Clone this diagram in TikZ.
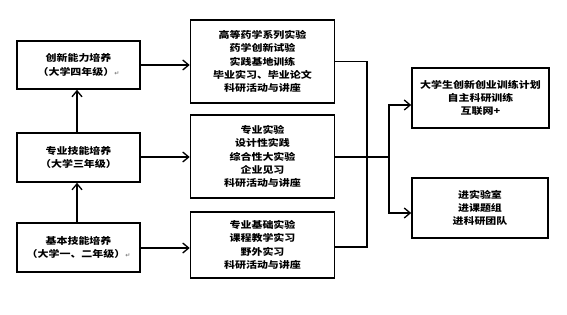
\documentclass[tikz,border=0pt]{standalone}
\usepackage{fontspec}
\setmainfont{Noto Sans CJK SC}[FakeStretch=1.18]
\newfontfamily\dejavu{DejaVu Sans}
\usetikzlibrary{arrows.meta}
\begin{document}
\begin{tikzpicture}[x=1pt,y=-1pt,
  box/.style={draw,line width=1.6pt,inner sep=0pt,align=center,font=\fontsize{9.3}{13.2}\selectfont\bfseries},
  conn/.style={line width=1.3pt},
  arr/.style={conn,-{Straight Barb[length=6pt,width=10pt,line width=1.3pt]}}]
\useasboundingbox (0,0) rectangle (567,315);
\newcommand{\parmark}{{\color{gray}\dejavu\fontsize{6}{6}\selectfont ↵}}
% left column
\node[box,minimum width=123,minimum height=48] (l1) at (78.5,65) {创新能力培养\\（大学四年级）\parmark};
\node[box,minimum width=123,minimum height=49] (l2) at (78.5,157.5) {专业技能培养\\（大学三年级）};
\node[box,minimum width=123,minimum height=49] (l3) at (78.5,247.5) {基本技能培养\\（大学一、二年级）\parmark};
% middle column
\node[box,minimum width=144,minimum height=83] (m1) at (262.5,61.5) {高等药学系列实验\\药学创新试验\\实践基地训练\\毕业实习、毕业论文\\科研活动与讲座};
\node[box,minimum width=144,minimum height=83] (m2) at (262.5,156.5) {专业实验\\设计性实践\\综合性大实验\\企业见习\\科研活动与讲座};
\node[box,minimum width=144,minimum height=66] (m3) at (262.5,245) {专业基础实验\\课程教学实习\\野外实习\\科研活动与讲座};
% right column
\node[box,minimum width=137,minimum height=60] (r1) at (480.5,98) {大学生创新创业训练计划\\自主科研训练\\互联网+};
\node[box,minimum width=136,minimum height=60] (r2) at (480,208) {进实验室\\进课题组\\进科研团队};
% coordinates
\coordinate (cx1) at (367,61.5);
\coordinate (cx3) at (367,247);
\coordinate (cm) at (367,157);
\coordinate (bj) at (389,157);
\coordinate (bu) at (389,105);
\coordinate (bd) at (389,213);
% arrows
\draw[arr] (l3.north -| 77,0) -- (l2.south -| 77,0);
\draw[arr] (l2.north -| 77,0) -- (l1.south -| 77,0);
\draw[arr] (l1.east |- 0,65) -- (m1.west |- 0,65);
\draw[arr] (l2.east |- 0,157) -- (m2.west |- 0,157);
\draw[arr] (l3.east |- 0,248) -- (m3.west |- 0,248);
\draw[conn] (m1.east |- cx1) -- (cx1) -- (cx3) -- (m3.east |- cx3);
\draw[conn] (m2.east |- cm) -- (bj);
\draw[arr] (bj) -- (bu) -- (r1.west |- bu);
\draw[arr] (bj) -- (bd) -- (r2.west |- bd);
\end{tikzpicture}
\end{document}
